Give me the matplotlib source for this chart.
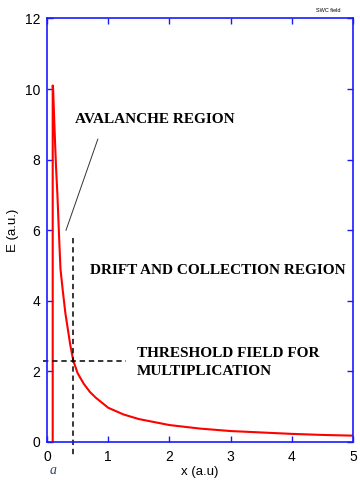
import matplotlib
matplotlib.use("Agg")
import matplotlib.pyplot as plt

# curve data
x_curve = [0.093, 0.093, 0.10, 0.12, 0.147, 0.17, 0.20, 0.22, 0.26, 0.30, 0.34, 0.38, 0.43, 0.5, 0.6,
           0.7, 0.8, 1.0, 1.25, 1.5, 2.0, 2.5, 3.0, 3.5, 4.0, 4.5, 5.0]
e_curve = [0.0, 10.1, 10.0, 9.0, 7.8, 7.0, 5.7, 4.9, 4.25, 3.65, 3.2, 2.75, 2.3, 1.95, 1.65,
           1.42, 1.25, 0.97, 0.78, 0.65, 0.48, 0.38, 0.31, 0.27, 0.23, 0.2, 0.18]

threshold_x = 0.43
threshold_e = 2.3

xticks = [0, 1, 2, 3, 4, 5]
yticks = [0, 2, 4, 6, 8, 10, 12]

fig = plt.figure(figsize=(3.6, 4.83), dpi=100)
ax = fig.add_axes([0.1306, 0.0849, 0.85, 0.8768])
ax.plot(x_curve, e_curve, color="red", lw=1.5)

ax.plot([-0.065, 1.29], [threshold_e, threshold_e], ls=(0, (3.5, 2.5)), color="black", lw=1.1, clip_on=False)
ax.plot([threshold_x, threshold_x], [5.78, -0.42], ls=(0, (3.5, 2.5)), color="black", lw=1.1, clip_on=False)
ax.plot([0.31, 0.83], [6.0, 8.58], color="#333333", lw=0.7)

ax.set_xlim(0, 5)
ax.set_ylim(0, 12)
ax.set_xticks(xticks)
ax.set_yticks(yticks)
for s in ax.spines.values():
    s.set_color("#1a1aff")
    s.set_linewidth(1.2)
ax.tick_params(direction="in", colors="#1a1aff", labelcolor="black", top=True, right=True,
               length=4, width=1, labelsize=10)
ax.tick_params(axis="x", pad=6)
ax.tick_params(axis="y", pad=5)
for lab in ax.get_xticklabels() + ax.get_yticklabels():
    lab.set_family("Liberation Sans")
ax.set_xlabel("x (a.u)", family="Liberation Sans", fontsize=9.5, labelpad=1)
ax.set_ylabel("E (a.u.)", family="Liberation Sans", fontsize=9.5, labelpad=4)

sf = dict(family="Liberation Serif", weight="bold", fontsize=11, color="black")
ax.text(0.46, 9.13, "AVALANCHE REGION", va="center", ha="left", **sf)
ax.text(0.70, 4.85, "DRIFT AND COLLECTION REGION", va="center", ha="left", **sf)
ax.text(1.47, 2.52, "THRESHOLD FIELD FOR", va="center", ha="left", **sf)
ax.text(1.47, 2.0, "MULTIPLICATION", va="center", ha="left", **sf)

fig.text(0.945, 0.978, "SWC field", fontsize=4, family="Liberation Sans", ha="right", va="center")
ax.text(0.1, -0.8, "a", style="italic", family="Liberation Serif", fontsize=10, color="#334466",
        ha="center", va="center", clip_on=False)

fig.savefig("out.png", dpi=100)
